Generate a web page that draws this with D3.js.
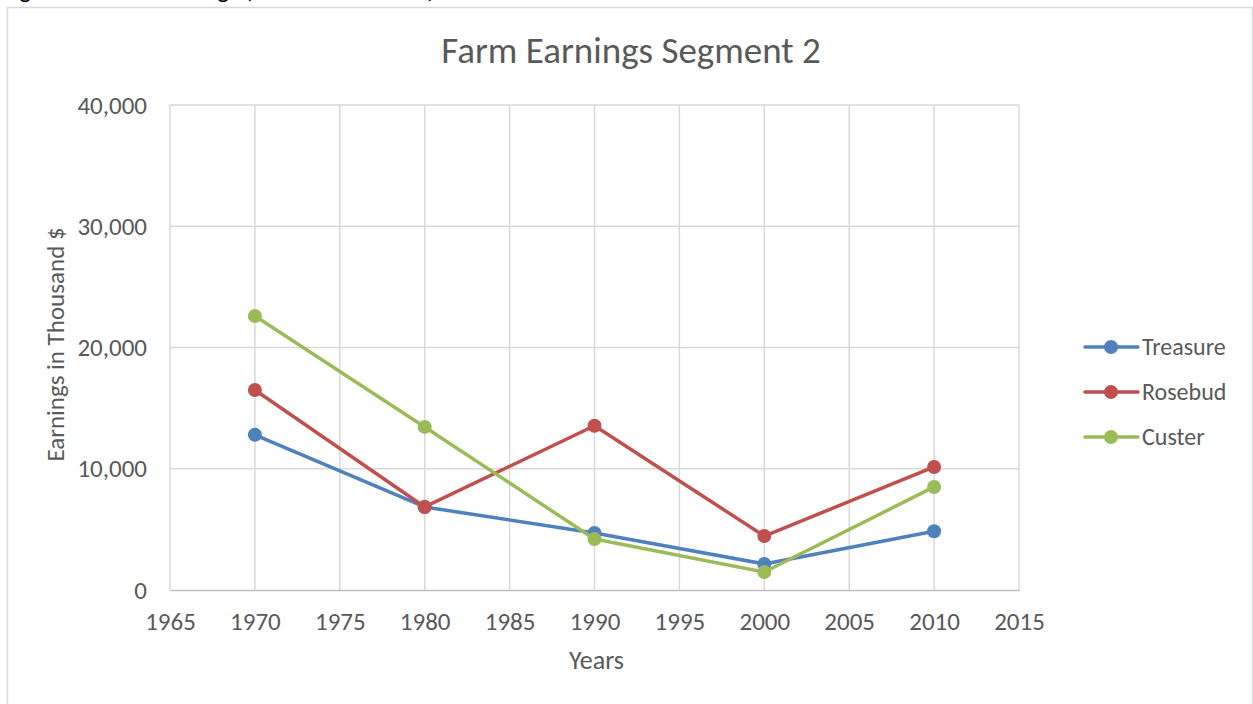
<!DOCTYPE html>
<html>
<head>
<meta charset="utf-8">
<script src="https://cdn.jsdelivr.net/npm/d3@7"></script>
<style>
  body { margin: 0; background: #fff; }
  svg text { font-family: Calibri, Carlito, Lato, "Open Sans", sans-serif; fill: #595959; }
</style>
</head>
<body>
<div id="chart"></div>
<script>
var svgWidth = 1253;
var svgHeight = 704;

// data
var years = [1970, 1980, 1990, 2000, 2010];
var treasure = [12800, 6850, 4700, 2150, 4850];
var rosebud = [16500, 6850, 13550, 4450, 10150];
var custer = [22600, 13450, 4200, 1480, 8500];
var seriesNames = ["Treasure", "Rosebud", "Custer"];
var seriesColors = ["#4f81bd", "#c0504d", "#9bbb59"];
var xTicks = [1965, 1970, 1975, 1980, 1985, 1990, 1995, 2000, 2005, 2010, 2015];
var yTicks = [0, 10000, 20000, 30000, 40000];

var margin = { top: 105, left: 170 };
var width = 849;
var height = 485;

var svg = d3.select("#chart")
  .append("svg")
  .attr("width", svgWidth)
  .attr("height", svgHeight);

// caption above the chart frame, cut off at the top edge like in the page it came from
svg.append("text")
  .attr("x", 2)
  .attr("y", -2)
  .style("font-size", "25px")
  .style("fill", "#000")
  .text("Figure 8: Farm Earnings (Thousand Dollars)");

// chart frame
svg.append("rect")
  .attr("x", 7.5)
  .attr("y", 7.5)
  .attr("width", 1245)
  .attr("height", 720)
  .attr("fill", "none")
  .attr("stroke", "#d9d9d9")
  .attr("stroke-width", 1.5);

svg.append("text")
  .attr("x", 631)
  .attr("y", 63)
  .attr("text-anchor", "middle")
  .style("font-size", "37px")
  .text("Farm Earnings Segment 2");

var chartGroup = svg.append("g")
  .attr("transform", `translate(${margin.left}, ${margin.top})`);

var x = d3.scaleLinear().domain([1965, 2015]).range([0, width]);
var y = d3.scaleLinear().domain([0, 40000]).range([height, 0]);

// gridlines
chartGroup.append("g")
  .selectAll("line")
  .data(xTicks)
  .enter()
  .append("line")
  .attr("x1", d => x(d)).attr("x2", d => x(d))
  .attr("y1", 0).attr("y2", height)
  .attr("stroke", "#d9d9d9")
  .attr("stroke-width", 1.5);

chartGroup.append("g")
  .selectAll("line")
  .data(yTicks.filter(d => d > 0))
  .enter()
  .append("line")
  .attr("x1", 0).attr("x2", width)
  .attr("y1", d => y(d)).attr("y2", d => y(d))
  .attr("stroke", "#d9d9d9")
  .attr("stroke-width", 1.5);

// axes
var bottomAxis = d3.axisBottom(x).tickValues(xTicks).tickFormat(d3.format("d")).tickSize(0).tickPadding(22);
var leftAxis = d3.axisLeft(y).tickValues(yTicks).tickFormat(d3.format(",")).tickSize(0).tickPadding(23);

var xg = chartGroup.append("g")
  .attr("transform", `translate(0, ${height})`)
  .call(bottomAxis);
xg.select(".domain").attr("stroke", "#bfbfbf").attr("stroke-width", 1.5);
xg.selectAll("text").style("font-size", "25px").style("fill", "#595959");

var yg = chartGroup.append("g").call(leftAxis);
yg.select(".domain").remove();
yg.selectAll("text").style("font-size", "25px").style("fill", "#595959");

// axis labels
chartGroup.append("text")
  .attr("transform", `translate(-106, ${height / 2 - 3}) rotate(-90)`)
  .attr("text-anchor", "middle")
  .style("font-size", "25px")
  .text("Earnings in Thousand $");

chartGroup.append("text")
  .attr("x", width / 2 + 2)
  .attr("y", height + 79)
  .attr("text-anchor", "middle")
  .style("font-size", "26px")
  .text("Years");

// lines and markers
var allSeries = [treasure, rosebud, custer];
var line = d3.line()
  .x((d, i) => x(years[i]))
  .y(d => y(d));

allSeries.forEach(function(vals, s) {
  chartGroup.append("path")
    .datum(vals)
    .attr("d", line)
    .attr("fill", "none")
    .attr("stroke", seriesColors[s])
    .attr("stroke-width", 3.5)
    .attr("stroke-linejoin", "round");

  chartGroup.append("g")
    .selectAll("circle")
    .data(vals)
    .enter()
    .append("circle")
    .attr("cx", (d, i) => x(years[i]))
    .attr("cy", d => y(d))
    .attr("r", 7)
    .attr("fill", seriesColors[s]);
});

// legend
var legend = svg.append("g")
  .selectAll("g")
  .data(seriesNames)
  .enter()
  .append("g")
  .attr("transform", (d, i) => `translate(1085, ${347 + i * 45})`);

legend.append("line")
  .attr("x1", 0).attr("x2", 53)
  .attr("stroke", (d, i) => seriesColors[i])
  .attr("stroke-width", 3.5)
  .attr("stroke-linecap", "round");

legend.append("circle")
  .attr("cx", 26)
  .attr("r", 7)
  .attr("fill", (d, i) => seriesColors[i]);

legend.append("text")
  .attr("x", 57)
  .attr("y", 8)
  .style("font-size", "24px")
  .text(d => d);
</script>
</body>
</html>
